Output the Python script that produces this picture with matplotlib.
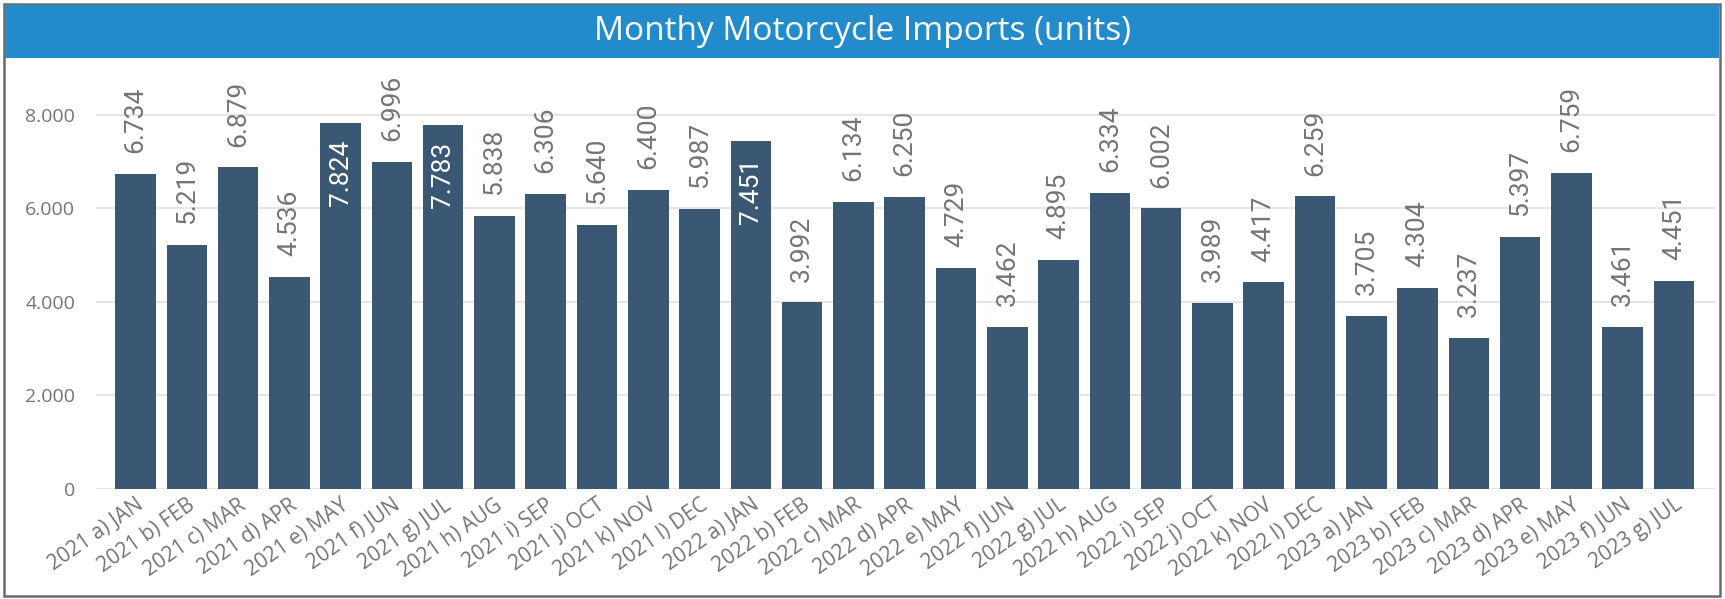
import matplotlib
matplotlib.use("Agg")
import matplotlib.pyplot as plt
from matplotlib.patches import Rectangle
from matplotlib.ticker import FuncFormatter

# ── Data ─────────────────────────────────────────────────────────────────────

months = [
    "2021 a) JAN", "2021 b) FEB", "2021 c) MAR", "2021 d) APR", "2021 e) MAY",
    "2021 f) JUN", "2021 g) JUL", "2021 h) AUG", "2021 i) SEP", "2021 j) OCT",
    "2021 k) NOV", "2021 l) DEC",
    "2022 a) JAN", "2022 b) FEB", "2022 c) MAR", "2022 d) APR", "2022 e) MAY",
    "2022 f) JUN", "2022 g) JUL", "2022 h) AUG", "2022 i) SEP", "2022 j) OCT",
    "2022 k) NOV", "2022 l) DEC",
    "2023 a) JAN", "2023 b) FEB", "2023 c) MAR", "2023 d) APR", "2023 e) MAY",
    "2023 f) JUN", "2023 g) JUL",
]
imports = [
    6734, 5219, 6879, 4536, 7824, 6996, 7783, 5838, 6306, 5640, 6400, 5987,
    7451, 3992, 6134, 6250, 4729, 3462, 4895, 6334, 6002, 3989, 4417, 6259,
    3705, 4304, 3237, 5397, 6759, 3461, 4451,
]
y_ticks = [0, 2000, 4000, 6000, 8000]

TITLE = "Monthy Motorcycle Imports (units)"

# ── Style ────────────────────────────────────────────────────────────────────

BAR_COLOR = "#3A5874"
HEADER_BLUE = "#228BCC"
BORDER = "#6B6B6B"
GRID = "#E6E6E6"
TEXT_GRAY = "#747474"
UI_FONT = ["Open Sans", "DejaVu Sans"]
LABEL_FONT = ["Roboto", "DejaVu Sans"]
W, H = 1725, 599
Y_MAX = 9005


def fx(px):
    return px / W


def fy(px_from_top):
    return 1 - px_from_top / H


def thousands(v, _pos=None):
    return f"{v:,.0f}".replace(",", ".")


fig = plt.figure(figsize=(W / 100, H / 100), dpi=100)

# frame and header band
fig.patches.append(Rectangle((fx(4), fy(596)), fx(1716), 592 / H,
                             transform=fig.transFigure, fill=False,
                             edgecolor=BORDER, linewidth=1.8, zorder=0))
fig.patches.append(Rectangle((fx(5), fy(58)), fx(1714), 53 / H,
                             transform=fig.transFigure, facecolor=HEADER_BLUE,
                             edgecolor="none", zorder=1))
fig.text(0.5, fy(32), TITLE, ha="center", va="center", color="white",
         fontsize=24, family=UI_FONT)

ax = fig.add_axes([fx(96), fy(489), fx(1716 - 96), (489 - 68) / H])

x = range(len(imports))
ax.bar(x, imports, width=0.79, color=BAR_COLOR, zorder=2)

ax.set_xlim(-0.77, len(imports) - 1 + 0.82)
ax.set_ylim(0, Y_MAX)
ax.set_yticks(y_ticks)
ax.yaxis.set_major_formatter(FuncFormatter(thousands))
ax.grid(axis="y", color=GRID, linewidth=1.5, zorder=0)
ax.set_axisbelow(True)
for s in ax.spines.values():
    s.set_visible(False)
ax.tick_params(axis="both", length=0, colors=TEXT_GRAY)
ax.tick_params(axis="y", pad=15, labelsize=14)
for lbl in ax.get_yticklabels():
    lbl.set_family(UI_FONT)

ax.set_xticks(list(x))
ax.set_xticklabels(months, rotation=35, ha="right", va="top",
                   rotation_mode="anchor", fontsize=15, family=UI_FONT)
ax.tick_params(axis="x", pad=4)

# value labels: above the bar, or inside it when there is no room on top
for i, v in enumerate(imports):
    inside = v + 1750 > Y_MAX
    ax.annotate(thousands(v), xy=(i, v),
                xytext=(0, -12 if inside else 15), textcoords="offset points",
                rotation=90, ha="center", va="top" if inside else "bottom",
                color="white" if inside else TEXT_GRAY,
                fontsize=19, family=LABEL_FONT, zorder=3)

fig.savefig("out.png", dpi=100)
